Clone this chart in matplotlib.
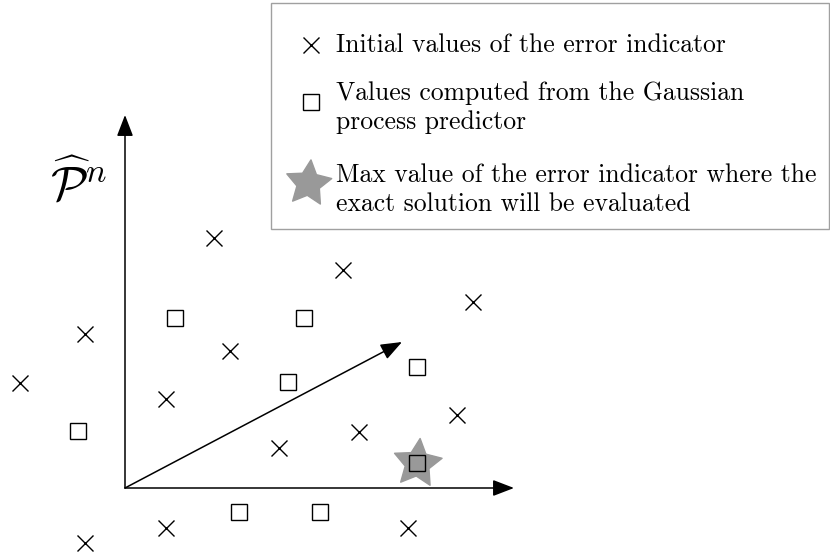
import matplotlib
matplotlib.use("Agg")
import matplotlib.pyplot as plt
import numpy as np
from matplotlib.markers import MarkerStyle
from matplotlib.patches import Rectangle
from matplotlib.path import Path

plt.rcParams["font.family"] = ["cmr10", "DejaVu Serif"]
plt.rcParams["mathtext.fontset"] = "cm"
plt.rcParams["axes.unicode_minus"] = False

# error indicator samples, in the (feature, P^n) plane
cross_x = [89, 218, 348, -40, 105, -105, 41, 332, 234, 154, 41, 283, -40]
cross_y = [250, 218, 186, 154, 137, 105, 89, 73, 56, 40, -40, -40, -55]

# values predicted by the Gaussian process
square_x = [50, 179, 163, 292, -47, 292, 114, 195]
square_y = [170, 170, 106, 121, 57, 25, -24, -24]

# index of the maximum (where the exact solution is evaluated)
max_idx = 5

# axis arrows and the direction arrow
x_axis_end = (389, 0)
y_axis_end = (0, 373)
dir_end = (277, 146)

legend_labels = [
    "Initial values of the error indicator",
    "Values computed from the Gaussian\nprocess predictor",
    "Max value of the error indicator where the\nexact solution will be evaluated",
]

star_color = "#999999"


def fat_star(inner=0.5, tilt=-6):
    # five-pointed star, a bit fuller than matplotlib's "*"
    ang = np.pi / 2 + np.arange(10) * np.pi / 5 + np.deg2rad(tilt)
    rad = np.where(np.arange(10) % 2 == 0, 1.0, inner)
    verts = np.column_stack([rad * np.cos(ang), rad * np.sin(ang)])
    verts = np.vstack([verts, verts[:1]])
    codes = [Path.MOVETO] + [Path.LINETO] * 9 + [Path.CLOSEPOLY]
    return MarkerStyle(Path(verts, codes))


star_marker = fat_star()

fig = plt.figure(figsize=(8.3, 5.54), dpi=100)
ax = fig.add_axes([0, 0, 1, 1])
ax.set_xlim(-125, 705)
ax.set_ylim(-66, 488)
ax.axis("off")

arrow_props = dict(arrowstyle="-|>,head_length=1.3,head_width=0.5",
                   mutation_scale=10, lw=1.1, color="black",
                   shrinkA=0, shrinkB=0)
for end in (x_axis_end, y_axis_end, dir_end):
    ax.annotate("", xy=end, xytext=(0, 0), arrowprops=arrow_props)

ax.plot(square_x[max_idx], square_y[max_idx], linestyle="none",
        marker=star_marker, markersize=36, color=star_color, zorder=3)
ax.plot(cross_x, cross_y, linestyle="none", marker="x", markersize=11.5,
        markeredgewidth=1.0, color="black", zorder=4)
ax.plot(square_x, square_y, linestyle="none", marker="s", markersize=12,
        markeredgewidth=1.0, markerfacecolor="none", markeredgecolor="black",
        zorder=4)

ax.text(-46, 303, r"$\widehat{\mathcal{P}}^n$", fontsize=35,
        ha="center", va="center")

# legend box drawn by hand so the two-line entries sit like the original
ax.add_patch(Rectangle((146, 259), 558, 226, facecolor="white",
                       edgecolor="#a0a0a0", lw=1.0, zorder=5))
ax.plot(186, 443, marker="x", markersize=11.5, markeredgewidth=1.0,
        color="black", zorder=6)
ax.plot(186, 386, marker="s", markersize=12, markeredgewidth=1.0,
        markerfacecolor="none", markeredgecolor="black", zorder=6)
ax.plot(183, 305, marker=star_marker, markersize=34, color=star_color,
        zorder=6)

text_x = 211
baselines = [436, 388, 306]
for label, base in zip(legend_labels, baselines):
    for k, line in enumerate(label.split("\n")):
        ax.text(text_x, base - 29 * k, line, fontsize=18.5, ha="left",
                va="baseline", zorder=7)

fig.savefig("out.png", dpi=100)
